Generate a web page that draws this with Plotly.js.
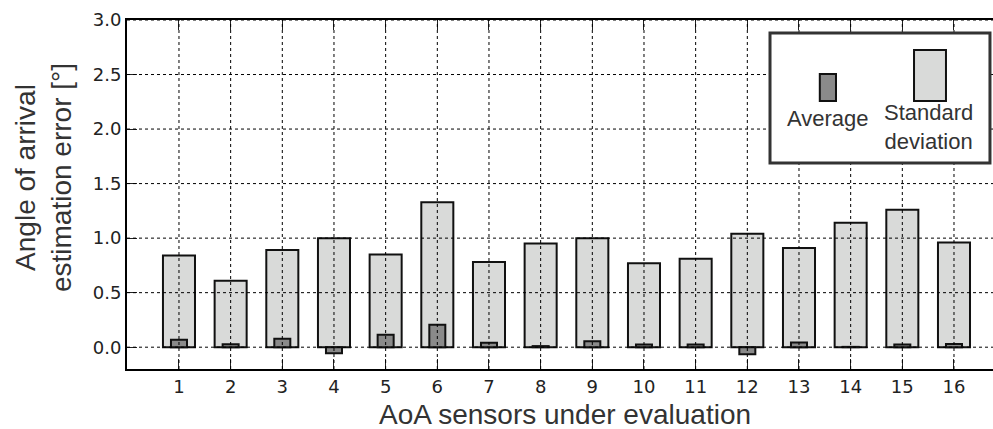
<!DOCTYPE html>
<html>
<head>
<meta charset="utf-8">
<script src="https://cdn.plot.ly/plotly-3.0.1.min.js"></script>
<style>html,body{margin:0;padding:0;background:#fff;}#chart{width:993px;height:429px;}</style>
</head>
<body>
<div id="chart"></div>
<script>
// ---- data ----
const sensors = [1,2,3,4,5,6,7,8,9,10,11,12,13,14,15,16];
const sensorLabels = sensors.map(String);
const averageError = [0.068,0.028,0.077,-0.055,0.115,0.205,0.040,0.010,0.055,0.025,0.025,-0.065,0.043,0.003,0.025,0.030];
const stdDeviation = [0.84,0.61,0.89,1.00,0.85,1.33,0.78,0.95,1.00,0.77,0.81,1.04,0.91,1.14,1.26,0.96];
const yTicks = [0.0,0.5,1.0,1.5,2.0,2.5,3.0];
const yTickLabels = yTicks.map(v => v.toFixed(1));
const legendNames = ['Average', 'Standard<br>deviation'];

// ---- style ----
const stdFill = '#d9dad9';
const avgFill = '#8a8a8a';
const edge = '#111111';

const traces = [
  {type:'bar', x:sensors, y:stdDeviation, width:0.62, name:'Standard deviation',
   marker:{color:stdFill, line:{color:edge, width:2}}, showlegend:false, hoverinfo:'x+y'},
  {type:'bar', x:sensors, y:averageError, width:0.31, name:'Average',
   marker:{color:avgFill, line:{color:edge, width:2}}, showlegend:false, hoverinfo:'x+y'}
];

// gridlines drawn above the bars (as in the reference)
const shapes = [];
yTicks.forEach(v => shapes.push({type:'line', xref:'paper', yref:'y', x0:0, x1:1, y0:v, y1:v,
  line:{color:'#000', width:1, dash:'dot'}, layer:'above'}));
sensors.forEach(v => shapes.push({type:'line', xref:'x', yref:'paper', x0:v, x1:v, y0:0, y1:1,
  line:{color:'#000', width:1, dash:'dot'}, layer:'above'}));
// legend box
shapes.push({type:'rect', xref:'paper', yref:'paper', x0:0.7425, x1:0.9965, y0:0.5903, y1:0.9628,
  fillcolor:'#fff', line:{color:'#333', width:3}, layer:'above'});
shapes.push({type:'rect', xref:'paper', yref:'paper', x0:0.800, x1:0.8187, y0:0.7679, y1:0.8453,
  fillcolor:avgFill, line:{color:edge, width:2}, layer:'above'});
shapes.push({type:'rect', xref:'paper', yref:'paper', x0:0.9088, x1:0.9457, y0:0.7679, y1:0.914,
  fillcolor:stdFill, line:{color:edge, width:2}, layer:'above'});

const titleFont = {family:'Liberation Sans, Arial, sans-serif', size:28, color:'#333'};
const legFont = {family:'Liberation Sans, Arial, sans-serif', size:22, color:'#333'};

const annotations = [
  {xref:'paper', yref:'paper', x:0.5058, y:-0.1307, xanchor:'center', yanchor:'middle',
   text:'AoA sensors under evaluation', showarrow:false, font:titleFont},
  {xref:'paper', yref:'paper', x:-0.097, y:0.550, xanchor:'center', yanchor:'middle', textangle:-90,
   text:'Angle of arrival<br>estimation error [°]', showarrow:false, font:titleFont},
  {xref:'paper', yref:'paper', x:0.810, y:0.718, xanchor:'center', yanchor:'middle',
   text:legendNames[0], showarrow:false, font:legFont},
  {xref:'paper', yref:'paper', x:0.926, y:0.693, xanchor:'center', yanchor:'middle',
   text:legendNames[1], showarrow:false, font:legFont}
];

const tickFont = {family:'DejaVu Sans, sans-serif', size:18, color:'#222'};

const layout = {
  width:993, height:429,
  margin:{l:127, r:0, t:20, b:60},
  paper_bgcolor:'#fff', plot_bgcolor:'#fff',
  barmode:'overlay',
  showlegend:false,
  xaxis:{range:[-0.006,16.755], tickvals:sensors, ticktext:sensorLabels, ticks:'inside', ticklen:10,
    tickwidth:1, tickcolor:'#222', showgrid:false, zeroline:false, showline:true, linewidth:2,
    linecolor:'#000', mirror:'ticks', tickfont:tickFont},
  yaxis:{range:[-0.2,3.0], tickvals:yTicks, ticktext:yTickLabels, ticks:'inside', ticklen:10,
    tickwidth:1, tickcolor:'#222', showgrid:false, zeroline:false, showline:true, linewidth:2,
    linecolor:'#000', mirror:false, tickfont:tickFont},
  shapes:shapes,
  annotations:annotations
};

Plotly.newPlot('chart', traces, layout, {displayModeBar:false, staticPlot:true});
</script>
</body>
</html>
